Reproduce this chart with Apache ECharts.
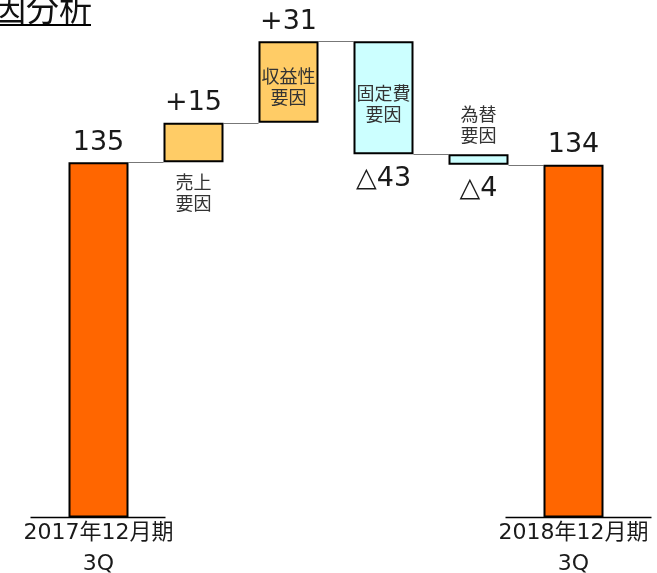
<!DOCTYPE html>
<html>
<head>
<meta charset="utf-8">
<script src="https://cdn.jsdelivr.net/npm/echarts@6/dist/echarts.min.js"></script>
<style>
html,body{margin:0;padding:0;background:#fff;}
#c{width:657px;height:573px;}
</style>
</head>
<body>
<div id="c"></div>
<script>
// ---- data ----
const categories = ['2017年12月期\n3Q', '売上要因', '収益性要因', '固定費要因', '為替要因', '2018年12月期\n3Q'];
const totals = [135, null, null, null, null, 134];
const deltas = [null, 15, 31, -43, -4, null];
const valueLabels = ['135', '+15', '+31', '△43', '△4', '134'];
const factorLabels = ['', '売上\n要因', '収益性\n要因', '固定費\n要因', '為替\n要因', ''];
const titleText = '増減要因分析';

// ---- derived (stacking for waterfall) ----
const bases = [], heights = [], levels = [];
let running = totals[0];
levels.push(running);
for (let i = 0; i < categories.length; i++) {
  const d = deltas[i];
  if (d === null) { bases.push('-'); heights.push('-'); continue; }
  if (d >= 0) { bases.push(running); heights.push(d); }
  else { bases.push(running + d); heights.push(-d); }
  running += d;
  levels.push(running);
}
const FONT = "'DejaVu Sans', 'Noto Sans CJK JP', sans-serif";
const CJK = "'Noto Sans CJK JP', sans-serif";
const BW = 60;
const valuePos = ['top', 'top', 'top', 'bottom', 'bottom', 'top'];
const factorPos = ['inside', 'bottom', 'inside', 'inside', 'top', 'inside'];
const factorOffset = [[0,0],[0,0],[0,5],[0,6],[0,0],[0,0]];
const posColor = '#FFCC66', negColor = '#CCFFFF', endColor = '#FF6600';

const chart = echarts.init(document.getElementById('c'), null, {renderer: 'canvas'});
chart.setOption({
  animation: false,
  backgroundColor: '#ffffff',
  grid: {left: 51, right: 36, top: 17.5, bottom: 55.5, containLabel: false, outerBoundsMode: 'none'},
  xAxis: {
    type: 'category',
    data: categories,
    axisLine: {show: false},
    axisTick: {show: false},
    axisLabel: {
      interval: 0,
      margin: 0,
      fontSize: 22,
      lineHeight: 31,
      color: '#1a1a1a',
      fontFamily: FONT,
      formatter: (v, i) => (totals[i] !== null ? v : '')
    }
  },
  yAxis: {type: 'value', min: 0, max: 190, show: false, splitLine: {show: false}},
  series: [
    {
      name: 'ends', type: 'bar', barWidth: BW, barGap: '-100%',
      data: totals.map(v => v === null ? '-' : v),
      itemStyle: {color: endColor, borderColor: '#000', borderWidth: 2},
      label: {
        show: true, position: 'top', distance: 6, fontSize: 27, color: '#1a1a1a', fontFamily: FONT,
        formatter: p => valueLabels[p.dataIndex]
      },
      z: 3
    },
    {
      name: 'base', type: 'bar', stack: 'w', barWidth: BW, barGap: '-100%', silent: true,
      data: bases, itemStyle: {color: 'rgba(0,0,0,0)'}
    },
    {
      name: 'delta', type: 'bar', stack: 'w', barWidth: BW, barGap: '-100%',
      data: heights.map((h, i) => h === '-' ? '-' : {
        value: h,
        itemStyle: {color: deltas[i] >= 0 ? posColor : negColor, borderColor: '#000', borderWidth: 2},
        label: {position: valuePos[i], distance: valuePos[i] === 'top' ? 6 : 11}
      }),
      label: {
        show: true, fontSize: 27, color: '#1a1a1a', fontFamily: FONT,
        formatter: p => valueLabels[p.dataIndex]
      },
      z: 3
    },
    {
      name: 'base2', type: 'bar', stack: 'w2', barWidth: BW, barGap: '-100%', silent: true,
      data: bases, itemStyle: {color: 'rgba(0,0,0,0)'}
    },
    {
      name: 'factor', type: 'bar', stack: 'w2', barWidth: BW, barGap: '-100%', silent: true,
      data: heights.map((h, i) => h === '-' ? '-' : {
        value: h,
        label: {position: factorPos[i], offset: factorOffset[i], distance: 9}
      }),
      itemStyle: {color: 'rgba(0,0,0,0)'},
      label: {
        show: true, fontSize: 18, lineHeight: 21, color: '#333', fontFamily: CJK,
        formatter: p => factorLabels[p.dataIndex]
      },
      z: 5
    }
  ]
});

// decorations computed from the axes
const px = (i, v) => chart.convertToPixel({seriesIndex: 0}, [i, v]);
const graphics = [];
for (let i = 0; i < categories.length - 1; i++) {
  const a = px(i, levels[i]);
  const b = px(i + 1, levels[i]);
  graphics.push({
    type: 'line', z: 1,
    shape: {x1: a[0] + BW / 2, y1: Math.round(a[1]) + 0.5, x2: b[0] - BW / 2, y2: Math.round(a[1]) + 0.5},
    style: {stroke: '#777', lineWidth: 1}
  });
}
const l0 = px(0, 0), l5 = px(5, 0);
graphics.push({type: 'line', z: 1, shape: {x1: l0[0] - 68, y1: l0[1], x2: l0[0] + 67, y2: l0[1]}, style: {stroke: '#000', lineWidth: 1.5}});
graphics.push({type: 'line', z: 1, shape: {x1: l5[0] - 68, y1: l5[1], x2: l5[0] + 78, y2: l5[1]}, style: {stroke: '#000', lineWidth: 1.5}});
graphics.push({type: 'text', x: 92, y: 25, style: {text: titleText, fontSize: 33, fontFamily: CJK, fill: '#111', textAlign: 'right', textVerticalAlign: 'bottom'}});
graphics.push({type: 'line', shape: {x1: 0, y1: 25, x2: 91, y2: 25}, style: {stroke: '#000', lineWidth: 2}});
chart.setOption({graphic: graphics});
</script>
</body>
</html>
